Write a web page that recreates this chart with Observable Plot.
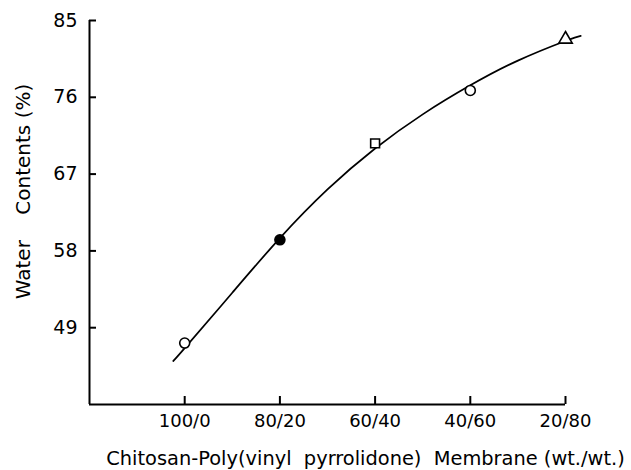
<!DOCTYPE html>
<html>
<head>
<meta charset="utf-8">
<script src="https://cdn.jsdelivr.net/npm/d3@7"></script>
<script src="https://cdn.jsdelivr.net/npm/@observablehq/plot@0.6"></script>
<style>
  html, body { margin: 0; padding: 0; background: white; }
  svg text { white-space: pre; }
</style>
</head>
<body>
<div id="chart"></div>
<script>
// Categories (membrane composition, wt./wt.)
const categories = ["100/0", "80/20", "60/40", "40/60", "20/80"];
// Measured water contents (%)
const waterContent = [47.2, 59.3, 70.6, 76.8, 82.8];
const markerSymbols = ["circle", "circle", "square", "circle", "triangle"];
const markerFills = ["white", "black", "white", "white", "white"];
// Drawn smooth curve, x in category slots (1 = 100/0)
const curveX = [0.88, 1, 1.5, 2, 2.5, 3, 3.5, 4, 4.5, 5, 5.16];
const curveY = [45.1, 46.6, 53.1, 59.5, 65.2, 70.0, 74.0, 77.4, 80.3, 82.6, 83.2];
// Axis ticks
const yTicks = [49, 58, 67, 76, 85];
const xTicks = [1, 2, 3, 4, 5];
const xLabel = "Chitosan-Poly(vinyl  pyrrolidone)  Membrane (wt./wt.)";
const yLabel = "Water    Contents (%)";

const points = categories.map((c, i) => ({
  pos: i + 1, value: waterContent[i], symbol: markerSymbols[i], fill: markerFills[i]
}));
const curve = curveX.map((x, i) => ({x, y: curveY[i]}));

const chart = Plot.plot({
  width: 631,
  height: 470,
  marginLeft: 89,
  marginRight: 66,
  marginTop: 20,
  marginBottom: 66,
  style: {
    fontFamily: "'DejaVu Sans', sans-serif",
    fontSize: "18px",
    color: "black",
    background: "white"
  },
  x: {domain: [0, 5]},
  y: {domain: [40, 85]},
  color: {type: "identity"},
  symbol: {domain: ["circle", "square", "triangle"], range: ["circle", "square", "triangle"]},
  marks: [
    Plot.axisY(yTicks, {tickSize: 0, tickPadding: 12, fontSize: 19, label: null}),
    Plot.axisX(xTicks, {tickSize: 0, tickPadding: 10, fontSize: 18, label: null,
      tickFormat: d => categories[d - 1]}),
    Plot.tickY(yTicks, {y: d => d, insetRight: 469, strokeWidth: 2}),
    Plot.tickX(xTicks, {x: d => d, insetTop: 376, strokeWidth: 2}),
    Plot.ruleX([0], {strokeWidth: 2}),
    Plot.ruleY([40], {strokeWidth: 2}),
    Plot.line(curve, {x: "x", y: "y", curve: "natural", strokeWidth: 1.7}),
    Plot.dot(points, {x: "pos", y: "value", symbol: "symbol", fill: "fill",
      stroke: "black", r: 5, strokeWidth: 1.6}),
    Plot.text([xLabel], {frameAnchor: "bottom", textAnchor: "middle", lineAnchor: "middle",
      dx: 38, dy: 54, fontSize: 19.4}),
    Plot.text([yLabel], {frameAnchor: "left", textAnchor: "middle", lineAnchor: "middle",
      rotate: -90, dx: -66, dy: -21, fontSize: 20})
  ]
});
document.getElementById("chart").appendChild(chart);
</script>
</body>
</html>
